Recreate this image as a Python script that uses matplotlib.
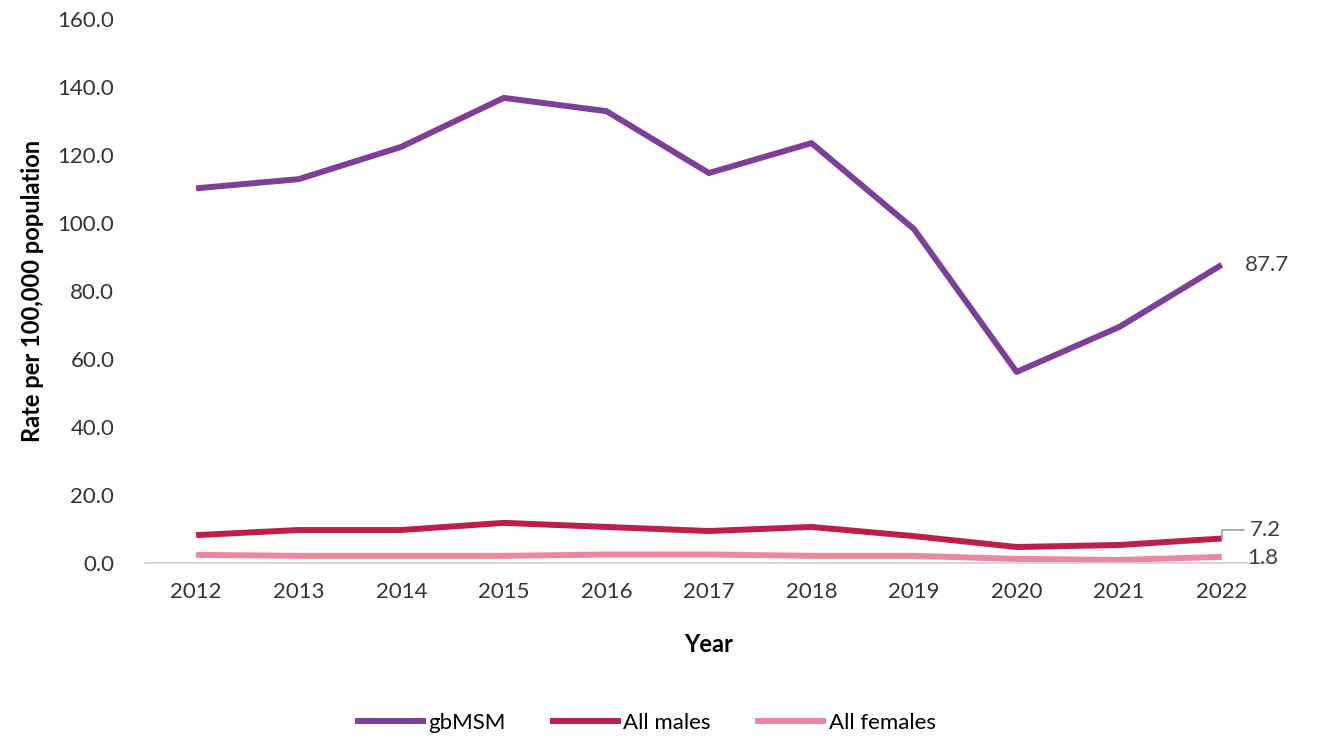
import matplotlib
matplotlib.use("Agg")
import matplotlib.pyplot as plt

years = [2012, 2013, 2014, 2015, 2016, 2017, 2018, 2019, 2020, 2021, 2022]
gbmsm = [110.2, 112.9, 122.4, 136.8, 132.9, 114.7, 123.5, 98.2, 56.2, 69.4, 87.7]
all_males = [8.2, 9.7, 9.7, 11.8, 10.6, 9.4, 10.6, 7.9, 4.7, 5.3, 7.2]
all_females = [2.4, 2.1, 2.1, 2.1, 2.5, 2.5, 2.1, 2.1, 1.2, 0.9, 1.8]
yticks = [0, 20, 40, 60, 80, 100, 120, 140, 160]

plt.rcParams['font.family'] = ['Lato', 'DejaVu Sans']

fig = plt.figure(figsize=(13.17, 7.37), dpi=100)
ax = fig.add_axes([0.110, 0.2361, 0.8566, 0.7381])

x = list(range(len(years)))
c1, c2, c3 = '#7E3F98', '#BE1E4A', '#EC87A2'
ax.plot(x, gbmsm, color=c1, lw=4.3, label='gbMSM', solid_capstyle='butt')
ax.plot(x, all_males, color=c2, lw=4.3, label='All males', solid_capstyle='butt')
ax.plot(x, all_females, color=c3, lw=4.3, label='All females', solid_capstyle='butt')

ax.set_xlim(-0.5, len(years) - 0.5)
ax.set_ylim(0, 160)
ax.set_yticks(yticks)
ax.set_yticklabels([f"{v:.1f}" for v in yticks], fontsize=16, color='#333333')
ax.set_xticks(x)
ax.set_xticklabels([str(y) for y in years], fontsize=16, color='#333333')
ax.tick_params(length=0, pad=14)
ax.tick_params(axis='y', pad=22)

for s in ['top', 'right', 'left']:
    ax.spines[s].set_visible(False)
ax.spines['bottom'].set_color('#D0D0D0')
ax.spines['bottom'].set_linewidth(1.2)

ax.set_ylabel('Rate per 100,000 population', fontsize=17, fontweight='bold', labelpad=10)
ax.set_xlabel('Year', fontsize=17, fontweight='bold', labelpad=22)

lc = '#404040'
ax.annotate(f"{gbmsm[-1]:.1f}", (x[-1], gbmsm[-1]), xytext=(17, 0), textcoords='offset points',
            fontsize=16, color=lc, va='center')
ax.annotate(f"{all_males[-1]:.1f}", (x[-1], all_males[-1]), xytext=(20, 6), textcoords='offset points',
            fontsize=16, color=lc, va='center',
            arrowprops=dict(arrowstyle='-', color='#A0A0A0', lw=1.2,
                            connectionstyle='angle,angleA=0,angleB=90,rad=0', shrinkA=2, shrinkB=0))
ax.annotate(f"{all_females[-1]:.1f}", (x[-1], all_females[-1]), xytext=(18, -1), textcoords='offset points',
            fontsize=16, color=lc, va='center')

fig.legend(loc='lower center', bbox_to_anchor=(0.49, -0.022), ncol=3, frameon=False,
           fontsize=16, handlelength=3.2, handletextpad=0.1, columnspacing=2.0)

fig.savefig('out.png', dpi=100)
